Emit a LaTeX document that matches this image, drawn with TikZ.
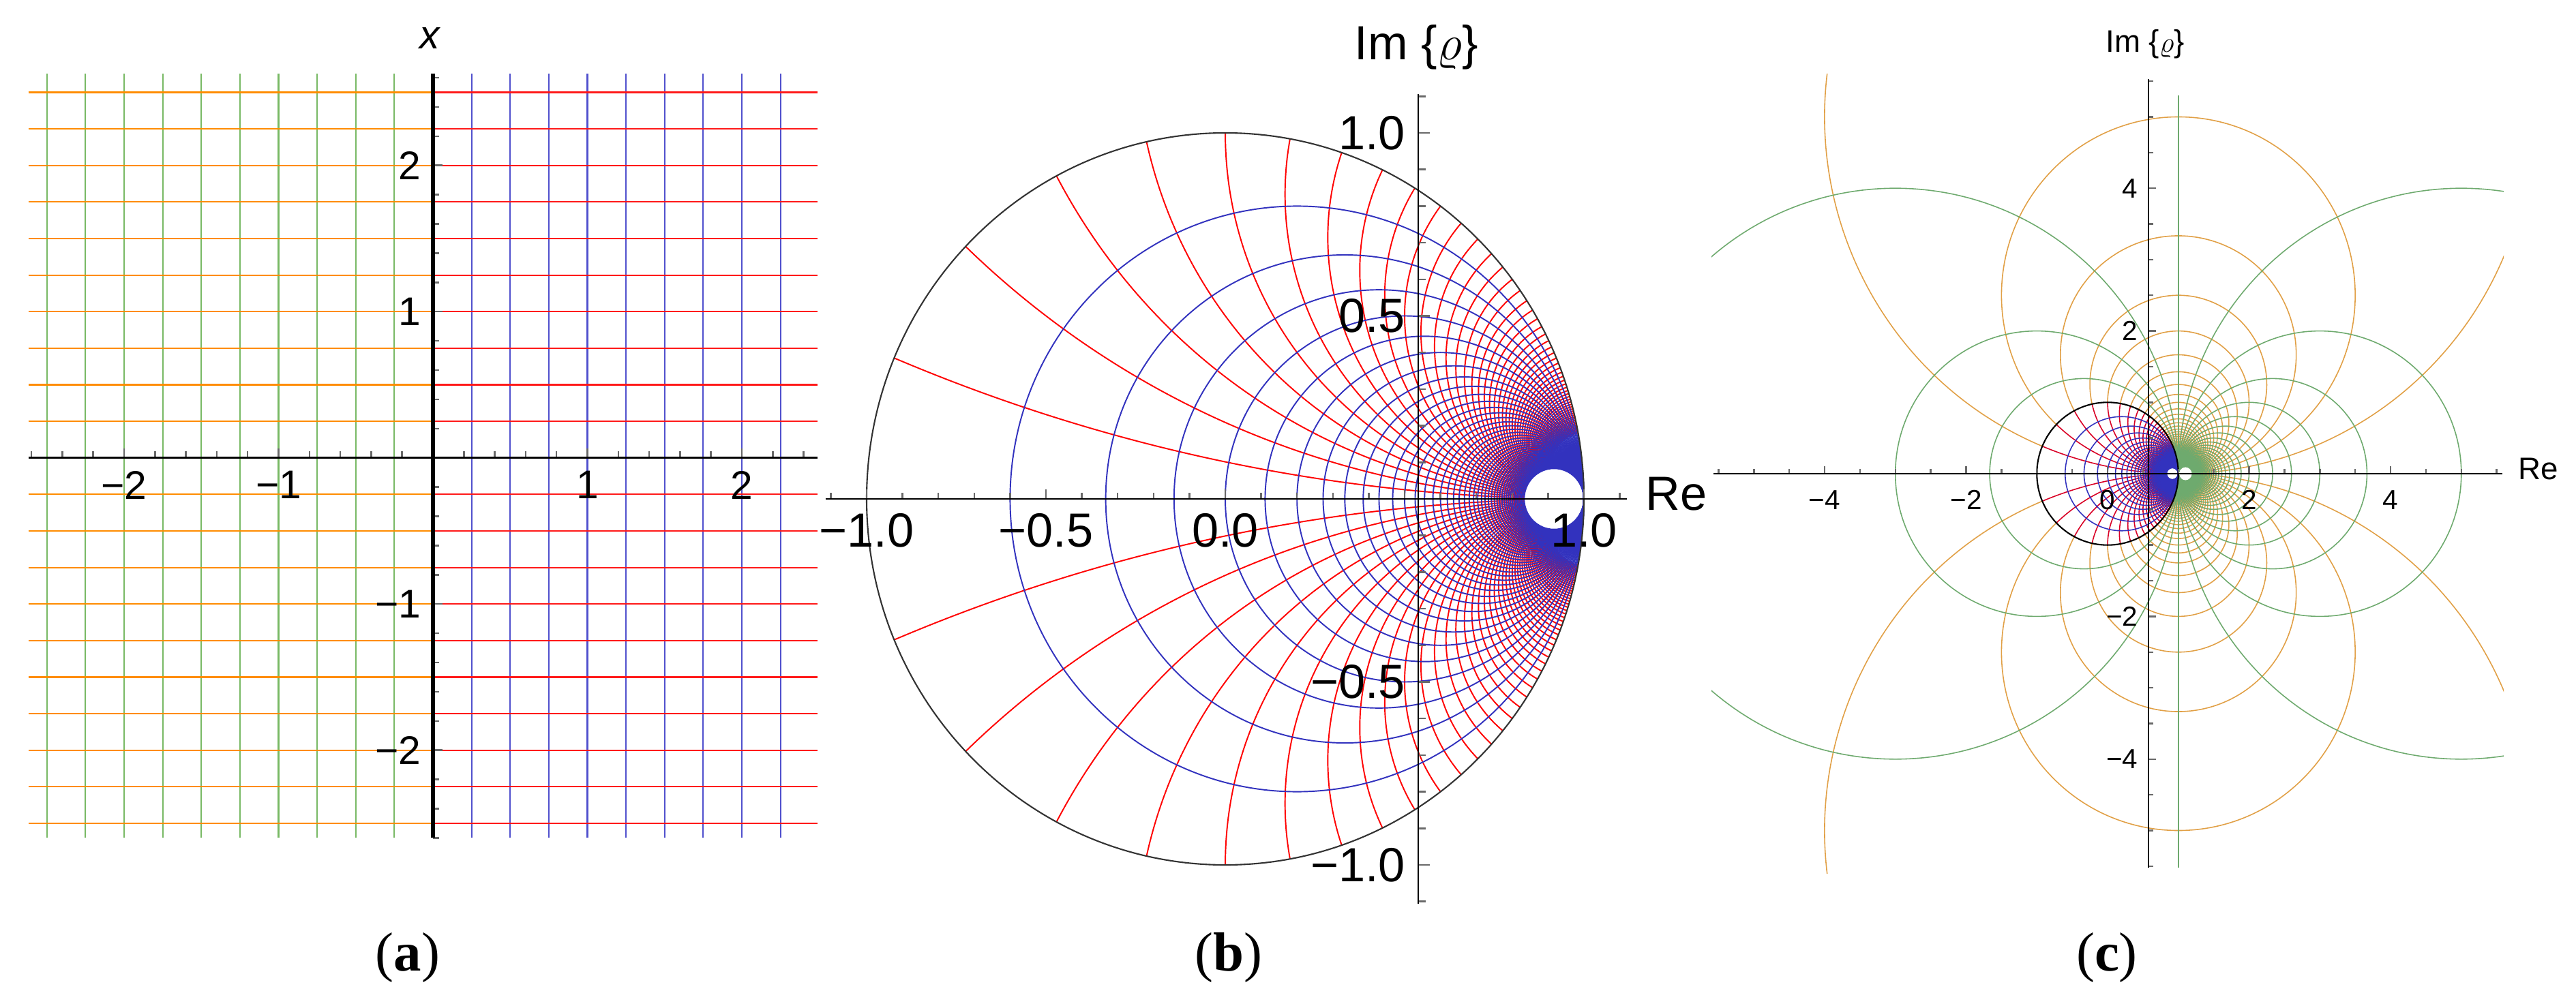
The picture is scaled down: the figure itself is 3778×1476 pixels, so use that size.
\documentclass[tikz,border=0pt]{standalone}
\usepackage{fontspec}
\setmainfont{Liberation Sans}
\newfontfamily\capfont{Liberation Serif}
\usetikzlibrary{calc}
\tikzset{>=latex}
\definecolor{zorangec}{RGB}{255,140,0}
\definecolor{zgreenc}{RGB}{120,185,100}
\definecolor{zbluec}{RGB}{80,80,205}
\definecolor{zredc}{RGB}{255,25,25}
\definecolor{arcred}{RGB}{255,0,0}
\definecolor{circblue}{RGB}{50,50,190}
\definecolor{outgreen}{RGB}{110,170,110}
\definecolor{outorange}{RGB}{225,160,70}
\definecolor{tickgray}{RGB}{105,105,105}
\tikzstyle{zgreen}=[zgreenc,line width=0.6pt]
\tikzstyle{zblue}=[zbluec,line width=0.6pt]
\tikzstyle{zorange}=[zorangec,line width=0.6pt]
\tikzstyle{zred}=[zredc,line width=0.6pt]
\tikzstyle{react}=[arcred,line width=0.55pt]
\tikzstyle{resist}=[circblue,line width=0.55pt]
\tikzstyle{reactin}=[arcred!85!blue,line width=0.45pt]
\tikzstyle{resistin}=[circblue,line width=0.45pt]
\tikzstyle{reactout}=[outorange,line width=0.45pt]
\tikzstyle{resistout}=[outgreen,line width=0.45pt]
\tikzstyle{axisln}=[black,line width=0.8pt]
\tikzstyle{tickln}=[tickgray,line width=0.7pt]
\tikzstyle{labA}=[inner sep=0,font=\fontsize{16.7}{19}\selectfont]
\tikzstyle{labB}=[inner sep=0,font=\fontsize{20}{23}\selectfont]
\tikzstyle{labC}=[inner sep=0,font=\fontsize{11.5}{13}\selectfont]
\tikzstyle{labCax}=[inner sep=0,font=\fontsize{13}{15}\selectfont]
\tikzstyle{capl}=[inner sep=0,font=\capfont\fontsize{23}{27}\selectfont]

% arcs of constant x and circles of constant r, r from 0 to \R
\newcommand{\smithlines}[2]{%
  \foreach \s in {1,-1}{
    \begin{scope}[yscale=\s]
      \foreach \k [evaluate={\xx=0.2*\k; \rr=1/\xx; \pa=90+2*atan2(1,\xx); \pb=90+2*atan2(\R+1,\xx);}] in {1,...,55}{
        \draw[#1] (1,\rr) ++(\pa:\rr) arc[start angle=\pa,end angle=\pb,radius=\rr];
      }
    \end{scope}
  }
  \foreach \k [evaluate={\rr=0.25*\k; \cx=\rr/(1+\rr); \ra=1/(1+\rr);}] in {1,...,44}{
    \draw[#2] (\cx,0) circle[radius=\ra];
  }
}

\begin{document}
\begin{tikzpicture}[x=0.01cm,y=0.01cm]
  \useasboundingbox (0,0) rectangle (3778,-1476);
  \def\R{11}

  % (a) GRID
  \begin{scope}[shift={(635,-671.7)},xscale=226.5,yscale=214.5]
    \foreach \k in {1,...,10}{
      \draw[zgreen] (-0.25*\k,-2.6) -- (-0.25*\k,2.63);
    }
    \foreach \k in {1,...,9}{
      \draw[zblue] (0.25*\k,-2.6) -- (0.25*\k,2.63);
    }
    \foreach \k in {1,...,10}{
      \draw[zorange] (-2.62,0.25*\k) -- (0,0.25*\k);
      \draw[zorange] (-2.62,-0.25*\k) -- (0,-0.25*\k);
      \draw[zred] (0,0.25*\k) -- (2.49,0.25*\k);
      \draw[zred] (0,-0.25*\k) -- (2.49,-0.25*\k);
    }
    \foreach \i [evaluate={\val=\i/5; \tlen=(mod(\i,5)==0 ? 0.066 : 0.047);}] in {-13,...,12}{
      \draw[tickln] (\val,0) -- (\val,\tlen);
    }
    \foreach \i [evaluate={\val=\i/5; \tlen=(mod(\i,5)==0 ? 0.06 : 0.038);}] in {-13,...,13}{
      \draw[tickln] (0,\val) -- (\tlen,\val);
    }
    % AXES
    \draw[axisln] (-2.62,0) -- (2.49,0);
    \draw[black,line width=1.7pt] (0,-2.6) -- (0,2.63);
    \node[labA] (xlab) at (-0.02,2.87) {\itshape x};
    \foreach \val/\txt/\nm in {-2/−2/m2,-1/−1/m1,1/1/p1,2/2/p2}{
      \node[labA] (ah\nm) at (\val,-0.186) {\txt};
      \node[labA,anchor=east] (av\nm) at (-0.075,\val) {\txt};
    }
  \end{scope}

  % (b) SMITH CHART, r >= 0
  \begin{scope}[shift={(1797,-732)},xscale=526,yscale=537]
    \smithlines{react}{resist}
    \draw[black!80,line width=0.6pt] (0,0) circle[radius=1];
    \foreach \i [evaluate={\val=\i/10; \tlen=(mod(\i,5)==0 ? 0.026 : 0.017);}] in {-11,...,11}{
      \draw[tickln] (\val,0) -- (\val,\tlen);
      \draw[tickln] (0.538,\val) -- (0.538+1.25*\tlen,\val);
    }
    % AXES
    \draw[axisln] (-1.115,0) -- (1.12,0);
    \draw[axisln] (0.538,-1.107) -- (0.538,1.107);
    \foreach \val/\txt/\nm in {-1/−1.0/m10,-0.5/−0.5/m05,0/0.0/p00,1/1.0/p10}{
      \node[labB] (bh\nm) at (\val,-0.086) {\txt};
    }
    \foreach \val/\txt/\nm in {1/1.0/p10,0.5/0.5/p05,-0.5/−0.5/m05,-1/−1.0/m10}{
      \node[labB,anchor=east] (bv\nm) at (0.503,\val) {\txt};
    }
    \node[labB,anchor=base] (bim) at (0.533,1.201) {Im \{$\varrho$\}};
    \node[labB,anchor=west] (bre) at (1.171,0.013) {Re};
  \end{scope}

  % (c) WHOLE PLANE
  \begin{scope}[shift={(3091,-695)},xscale=103.75,yscale=104.7]
    \begin{scope}
      \clip (-5.6,-5.6) rectangle (5.6,5.6);
      \foreach \s in {1,-1}{
        \begin{scope}[yscale=\s]
          \foreach \k [evaluate={\xx=0.2*\k; \rr=1/\xx; \pa=90+2*atan2(1,\xx); \pb=90+2*atan2(1-\R,\xx);}] in {1,...,55}{
            \draw[reactout] (1,\rr) ++(\pa:\rr) arc[start angle=\pa,end angle=\pb,radius=\rr];
          }
        \end{scope}
      }
      \foreach \k [evaluate={\rr=-0.25*\k; \cx=\rr/(1+\rr); \ra=1/abs(1+\rr);}] in {1,2,3,5,6,...,44}{
        \draw[resistout] (\cx,0) circle[radius=\ra];
      }
    \end{scope}
    \draw[resistout] (1,-5.52) -- (1,5.3);
    \smithlines{reactin}{resistin}
    \draw[black,line width=0.6pt] (0,0) circle[radius=1];
    \foreach \i [evaluate={\val=\i/2; \tlen=(mod(\i,4)==0 ? 0.105 : 0.067);}] in {-11,...,11}{
      \draw[tickln] (\val,0) -- (\val,\tlen);
      \draw[tickln] (0.58,\val) -- (0.58+\tlen,\val);
    }
    % AXES
    \draw[black,line width=0.6pt] (-5.57,0) -- (5.58,0);
    \draw[black,line width=0.6pt] (0.58,-5.52) -- (0.58,5.53);
    \foreach \val/\txt/\nm in {-4/−4/m4,-2/−2/m2,0/0/p0,2/2/p2,4/4/p4}{
      \node[labC] (ch\nm) at (\val,-0.365) {\txt};
    }
    \foreach \val/\txt/\nm in {4/4/p4,2/2/p2,-2/−2/m2,-4/−4/m4}{
      \node[labC,anchor=east] (cv\nm) at (0.435,\val) {\txt};
    }
    \node[labCax,anchor=base] (cim) at (0.53,5.91) {Im \{$\varrho$\}};
    \node[labCax,anchor=west] (cre) at (5.8,0.067) {Re};
  \end{scope}

  % CAPTIONS
  \node[capl] (capa) at (598,-1405) {(\textbf{a})};
  \node[capl] (capb) at (1802,-1405) {(\textbf{b})};
  \node[capl] (capc) at (3090,-1405) {(\textbf{c})};
\end{tikzpicture}
\end{document}
